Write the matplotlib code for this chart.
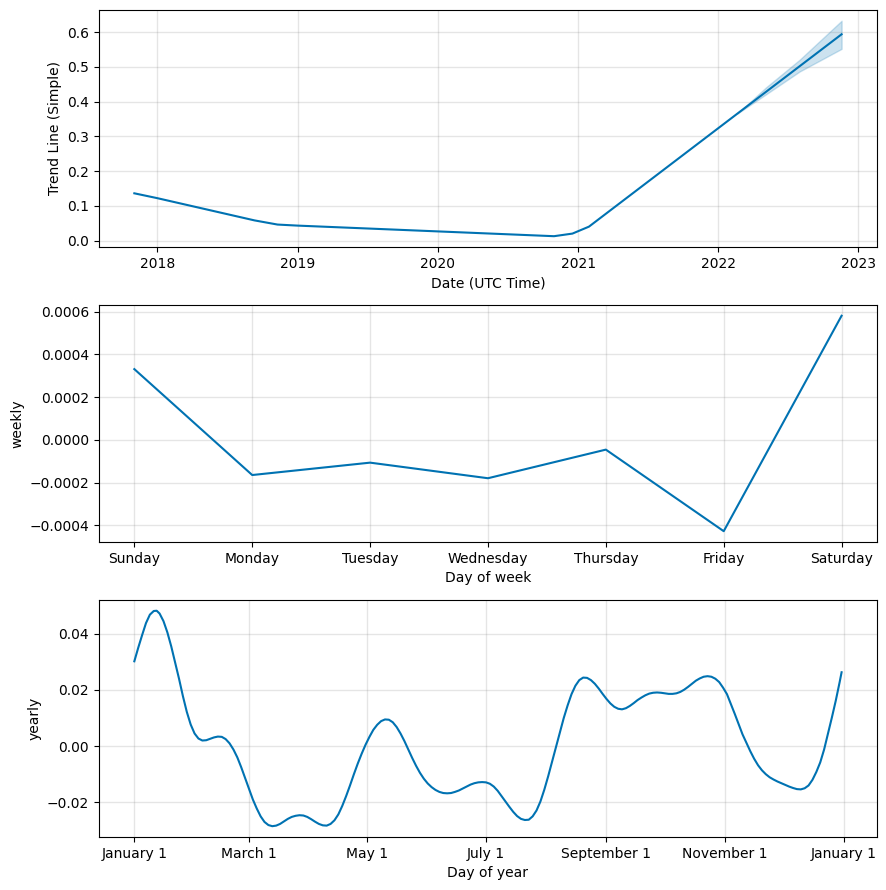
import matplotlib
matplotlib.use('Agg')
import matplotlib.pyplot as plt
import matplotlib.dates as mdates
from matplotlib.ticker import FuncFormatter
import pandas as pd

# trend component
trend_dates = ['2017-11-02', '2018-01-01', '2018-09-11', '2018-11-10', '2019-01-01',
               '2020-10-30', '2020-12-17', '2021-01-29', '2022-11-18']
trend_vals = [0.136, 0.122, 0.058, 0.046, 0.043, 0.0125, 0.020, 0.040, 0.594]

# uncertainty band on the forecast part of the trend
band_dates = ['2022-02-20', '2022-05-05', '2022-08-01', '2022-11-18']
band_lower = [0.366, 0.421, 0.487, 0.552]
band_upper = [0.366, 0.441, 0.521, 0.633]

# weekly seasonality
days = ['Sunday', 'Monday', 'Tuesday', 'Wednesday', 'Thursday', 'Friday', 'Saturday']
weekly_vals = [0.000331, -0.000165, -0.000107, -0.000180, -0.000046, -0.000428, 0.000581]

# yearly seasonality, day offset from Jan 1
year_days = [0, 2, 4, 6, 8, 10, 11.5, 13, 15, 17, 19, 21, 23, 25, 27, 29, 31, 33, 35, 37,
             39, 41, 43, 45, 47, 49, 51, 53, 55, 57, 59, 61, 63, 65, 67, 69, 71, 73, 75,
             77, 79, 81, 83, 85, 87, 89, 91, 93, 95, 97, 99, 101, 103, 105, 107, 109,
             111, 113, 115, 117, 119, 121, 123, 125, 127, 129, 131, 133, 135, 137, 139,
             141, 143, 145, 147, 149, 151, 153, 155, 157, 159, 161, 163, 165, 167, 169,
             171, 173, 175, 177, 179, 181, 183, 185, 187, 189, 191, 193, 195, 197, 199,
             201, 203, 205, 207, 209, 211, 213, 215, 217, 219, 221, 223, 225, 227, 229,
             231, 233, 235, 237, 239, 241, 243, 245, 247, 249, 251, 253, 255, 257, 259,
             261, 263, 265, 267, 269, 271, 273, 275, 277, 279, 281, 283, 285, 287, 289,
             291, 293, 295, 297, 299, 301, 303, 305, 307, 309, 311, 313, 315, 317, 319,
             321, 323, 325, 327, 329, 331, 333, 335, 337, 339, 341, 343, 345, 347, 349,
             351, 353, 355, 357, 359, 361, 363, 364]
yearly_vals = [0.0302, 0.0350, 0.0395, 0.0438, 0.0468, 0.0481, 0.0482, 0.0472, 0.0445,
               0.0405, 0.0355, 0.0298, 0.0240, 0.0178, 0.0122, 0.0077, 0.0045, 0.0027,
               0.0020, 0.0021, 0.0026, 0.0031, 0.0034, 0.0033, 0.0025, 0.0010, -0.0012,
               -0.0040, -0.0075, -0.0113, -0.0152, -0.0190, -0.0222, -0.0250, -0.0270,
               -0.0281, -0.0285, -0.0283, -0.0277, -0.0268, -0.0259, -0.0252, -0.0248,
               -0.0246, -0.0247, -0.0252, -0.0260, -0.0269, -0.0277, -0.0282, -0.0283,
               -0.0277, -0.0264, -0.0243, -0.0213, -0.0178, -0.0140, -0.0100, -0.0062,
               -0.0027, 0.0005, 0.0033, 0.0058, 0.0076, 0.0089, 0.0095, 0.0094, 0.0085,
               0.0068, 0.0045, 0.0018, -0.0012, -0.0042, -0.0070, -0.0095, -0.0116,
               -0.0133, -0.0146, -0.0156, -0.0163, -0.0167, -0.0168, -0.0167, -0.0163,
               -0.0158, -0.0151, -0.0144, -0.0137, -0.0132, -0.0129, -0.0128, -0.0129,
               -0.0134, -0.0144, -0.0159, -0.0178, -0.0197, -0.0216, -0.0234, -0.0249,
               -0.0259, -0.0263, -0.0262, -0.0250, -0.0229, -0.0197, -0.0155, -0.0107,
               -0.0055, -0.0002, 0.0050, 0.0100, 0.0145, 0.0185, 0.0215, 0.0235, 0.0244,
               0.0243, 0.0235, 0.0222, 0.0205, 0.0186, 0.0168, 0.0152, 0.0140, 0.0133,
               0.0131, 0.0135, 0.0143, 0.0153, 0.0164, 0.0173, 0.0181, 0.0187, 0.0190,
               0.0191, 0.0190, 0.0188, 0.0186, 0.0186, 0.0188, 0.0193, 0.0201, 0.0211,
               0.0222, 0.0233, 0.0241, 0.0247, 0.0249, 0.0247, 0.0240, 0.0228, 0.0208,
               0.0185, 0.0150, 0.0115, 0.0078, 0.0042, 0.0012, -0.0018, -0.0045, -0.0068,
               -0.0086, -0.0100, -0.0111, -0.0119, -0.0126, -0.0132, -0.0138, -0.0144,
               -0.0149, -0.0153, -0.0154, -0.0150, -0.0140, -0.0120, -0.0092, -0.0058,
               -0.0012, 0.0045, 0.0102, 0.0162, 0.0228, 0.0263]

color = '#0072B2'

fig, axes = plt.subplots(3, 1, figsize=(8.86, 8.9), dpi=100)
fig.subplots_adjust(left=0.1117, right=0.9898, top=0.9888, bottom=0.0596, hspace=0.2447)

# trend
ax = axes[0]
ax.plot(pd.to_datetime(trend_dates), trend_vals, ls='-', c=color)
ax.fill_between(pd.to_datetime(band_dates), band_lower, band_upper, color=color, alpha=0.2)
ax.xaxis.set_major_locator(mdates.YearLocator())
ax.xaxis.set_major_formatter(mdates.DateFormatter('%Y'))
ax.grid(True, which='major', c='gray', ls='-', lw=1, alpha=0.2)
ax.set_xlabel('Date (UTC Time)')
ax.set_ylabel('Trend Line (Simple)')

# weekly
ax = axes[1]
ax.plot(range(len(days)), weekly_vals, ls='-', c=color)
ax.set_xticks(range(len(days)))
ax.set_xticklabels(days)
ax.grid(True, which='major', c='gray', ls='-', lw=1, alpha=0.2)
ax.set_xlabel('Day of week')
ax.set_ylabel('weekly')

# yearly
ax = axes[2]
ydates = pd.Timestamp('2017-01-01') + pd.to_timedelta(year_days, unit='D')
ax.plot(ydates, yearly_vals, ls='-', c=color)
ax.xaxis.set_major_locator(mdates.MonthLocator(bymonth=range(1, 13), bymonthday=1, interval=2))
ax.xaxis.set_major_formatter(FuncFormatter(
    lambda x, pos=None: '{dt:%B} {dt.day}'.format(dt=mdates.num2date(x))))
ax.grid(True, which='major', c='gray', ls='-', lw=1, alpha=0.2)
ax.set_xlabel('Day of year')
ax.set_ylabel('yearly')

fig.savefig('out.png', dpi=100)
